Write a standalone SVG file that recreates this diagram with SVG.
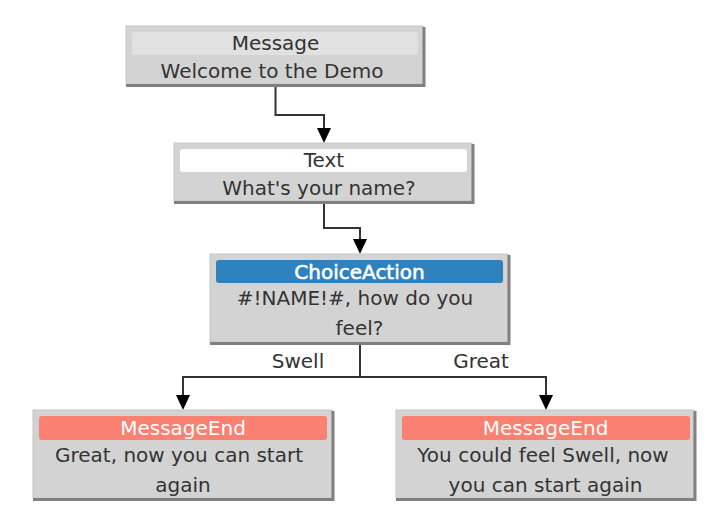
<svg xmlns="http://www.w3.org/2000/svg" width="708" height="527" viewBox="0 0 708 527">
<style>
  .box { fill: #d3d3d3; stroke: #c6c6c6; stroke-width: 1; }
  .shadow { fill: none; stroke: #808080; stroke-width: 3; }
  .t { font-family: "DejaVu Sans", Verdana, sans-serif; font-size: 20px; fill: #333333; text-anchor: middle; }
  .hw { fill: #ffffff; }
  .hb { stroke: #ffffff; stroke-width: 0.6; }
  .edge { fill: none; stroke: #333333; stroke-width: 2; }
</style>
<defs>
  <marker id="arr" viewBox="0 0 15 14" refX="0" refY="7" markerWidth="15" markerHeight="14" markerUnits="userSpaceOnUse" orient="auto">
    <path d="M0,0 L15,7 L0,14 z" fill="#000000"/>
  </marker>
</defs>
<rect width="708" height="527" fill="#ffffff"/>
<g id="connectors">
  <path class="edge" d="M275.5 85 V115 H324 V128" marker-end="url(#arr)"/>
  <path class="edge" d="M324 202 V228 H360 V239" marker-end="url(#arr)"/>
  <path class="edge" d="M360 343 V377 H183 V395" marker-end="url(#arr)"/>
  <path class="edge" d="M360 377 H546 V395" marker-end="url(#arr)"/>
  <text class="t" x="298" y="368">Swell</text>
  <text class="t" x="481" y="368">Great</text>
</g>
<g id="node-message">
  <rect class="box" x="126" y="26" width="297" height="58"/>
  <path class="shadow" d="M424 27 V85.5 H126"/>
  <rect x="132" y="32" width="286" height="23" rx="3" fill="#e1e1e1"/>
  <text class="t" x="275.5" y="50">Message</text>
  <text class="t" x="272" y="78">Welcome to the Demo</text>
</g>
<g id="node-text">
  <rect class="box" x="174" y="143" width="298" height="58"/>
  <path class="shadow" d="M473 144 V202.5 H174"/>
  <rect x="180" y="149" width="287" height="23" rx="3" fill="#ffffff"/>
  <text class="t" x="324" y="167">Text</text>
  <text class="t" x="319" y="195">What's your name?</text>
</g>
<g id="node-choice">
  <rect class="box" x="210" y="254" width="298" height="88"/>
  <path class="shadow" d="M509 255 V343.5 H210"/>
  <rect x="216" y="260" width="287" height="23" rx="3" fill="#2e82bf"/>
  <text class="t hw hb" x="359.5" y="279">ChoiceAction</text>
  <text class="t" x="355" y="305">#!NAME!#, how do you</text>
  <text class="t" x="359.5" y="335">feel?</text>
</g>
<g id="node-end-left">
  <rect class="box" x="33" y="410" width="299" height="88"/>
  <path class="shadow" d="M333 411 V499.5 H33"/>
  <rect x="39" y="416" width="288" height="24" rx="3" fill="#fa8072"/>
  <text class="t hw" x="183" y="435">MessageEnd</text>
  <text class="t" x="179" y="462">Great, now you can start</text>
  <text class="t" x="183" y="492">again</text>
</g>
<g id="node-end-right">
  <rect class="box" x="396" y="410" width="298" height="88"/>
  <path class="shadow" d="M695 411 V499.5 H396"/>
  <rect x="402" y="416" width="288" height="24" rx="3" fill="#fa8072"/>
  <text class="t hw" x="545.5" y="435">MessageEnd</text>
  <text class="t" x="543" y="462">You could feel Swell, now</text>
  <text class="t" x="545.5" y="492">you can start again</text>
</g>
</svg>
